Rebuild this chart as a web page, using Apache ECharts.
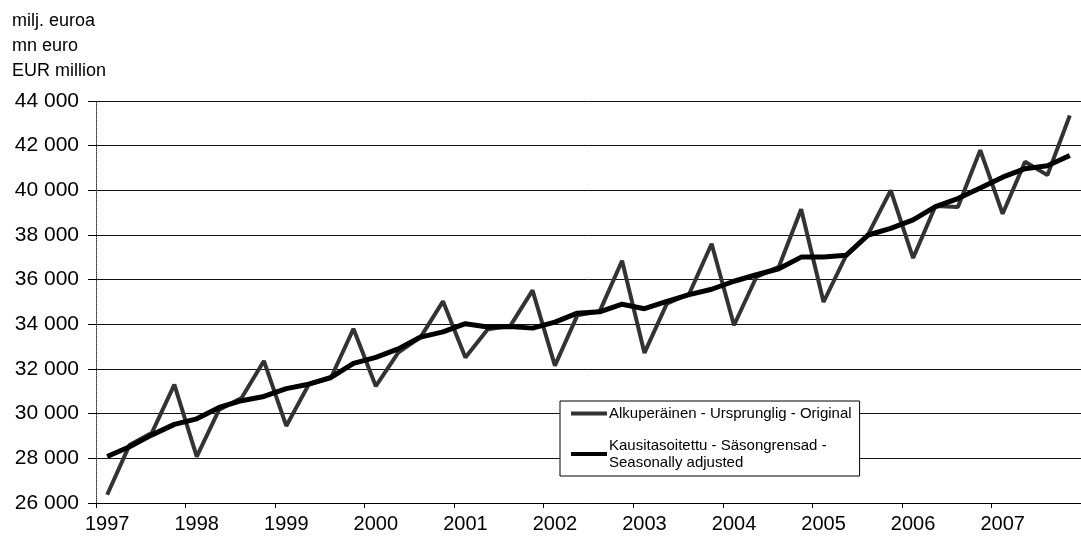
<!DOCTYPE html>
<html>
<head>
<meta charset="utf-8">
<script src="https://cdn.jsdelivr.net/npm/echarts@6/dist/echarts.min.js"></script>
<style>
html,body{margin:0;padding:0;background:#fff;}
#c{width:1081px;height:538px;}
</style>
</head>
<body>
<div id="c"></div>
<script>
var years = ['1997','1998','1999','2000','2001','2002','2003','2004','2005','2006','2007'];
var quarters = ['Q1','Q2','Q3','Q4'];
var unitLines = ['milj. euroa', 'mn euro', 'EUR million'];
var seriesNames = ['Alkuperäinen - Ursprunglig - Original', 'Kausitasoitettu - Säsongrensad -\nSeasonally adjusted'];
var original = [26370, 28600, 29150, 31300, 28080, 30180, 30700, 32360, 29450, 31300, 31620, 33800,
                31230, 32730, 33430, 35030, 32520, 33780, 33920, 35520, 32150, 34400, 34580, 36850,
                32720, 34930, 35370, 37610, 33960, 36120, 36570, 39150, 35000, 37070, 38050, 40000,
                36970, 39300, 39250, 41800, 38950, 41280, 40680, 43350];
var adjusted = [28080, 28520, 29050, 29520, 29770, 30280, 30580, 30770, 31120, 31320, 31620, 32250,
                32520, 32900, 33430, 33660, 34030, 33880, 33900, 33830, 34100, 34500, 34560, 34900,
                34700, 35030, 35330, 35570, 35930, 36220, 36490, 37010, 37010, 37090, 38000, 38300,
                38680, 39270, 39630, 40100, 40590, 40970, 41100, 41560];
var yMin = 26000, yMax = 44000, yStep = 2000;

var categories = [];
years.forEach(function (y) { quarters.forEach(function (q) { categories.push(y + ' ' + q); }); });

var FONT = '"Liberation Sans", Arial, sans-serif';
var chart = echarts.init(document.getElementById('c'), null, {renderer: 'canvas'});
chart.setOption({
  animation: false,
  backgroundColor: '#fff',
  graphic: [{
    type: 'text', left: 12, top: 9,
    style: {text: unitLines.join('\n'), font: '18px ' + FONT, fill: '#000', lineHeight: 25}
  }],
  grid: {left: 96, top: 101, bottom: 35, right: -10, containLabel: false},
  legend: {
    left: 560, top: 401,
    orient: 'vertical',
    backgroundColor: '#fff',
    borderColor: '#000', borderWidth: 1,
    padding: [4, 8, 5, 11],
    itemGap: 15,
    itemWidth: 36, itemHeight: 4,
    icon: 'rect',
    textStyle: {fontFamily: FONT, fontSize: 15, color: '#000', lineHeight: 17, padding: [0, 0, 0, -3]},
    data: seriesNames
  },
  xAxis: {
    type: 'category',
    data: categories,
    boundaryGap: true,
    axisLine: {show: true, lineStyle: {color: '#000', width: 1}},
    axisTick: {show: true, interval: 3, length: 5, lineStyle: {color: '#000'}},
    axisLabel: {
      interval: 3, margin: 11,
      fontFamily: FONT, fontSize: 20, color: '#000',
      formatter: function (v) { return v.split(' ')[0]; }
    },
    splitLine: {show: false}
  },
  yAxis: {
    type: 'value',
    min: yMin, max: yMax, interval: yStep,
    axisLine: {show: true, lineStyle: {color: '#333', width: 1, type: 'dotted'}},
    axisTick: {show: true, length: 8, lineStyle: {color: '#000'}},
    axisLabel: {
      margin: 17, fontFamily: FONT, fontSize: 21, color: '#000',
      formatter: function (v) { return String(v).replace(/\B(?=(\d{3})+(?!\d))/g, ' '); }
    },
    splitLine: {show: true, lineStyle: {color: '#111', width: 1}}
  },
  series: [
    {
      name: seriesNames[0], type: 'line', data: original,
      showSymbol: false, symbol: 'none',
      lineStyle: {color: '#333', width: 4},
      itemStyle: {color: '#333'},
      z: 2
    },
    {
      name: seriesNames[1], type: 'line', data: adjusted,
      showSymbol: false, symbol: 'none',
      lineStyle: {color: '#000', width: 5},
      itemStyle: {color: '#000'},
      z: 3
    }
  ]
});
</script>
</body>
</html>
